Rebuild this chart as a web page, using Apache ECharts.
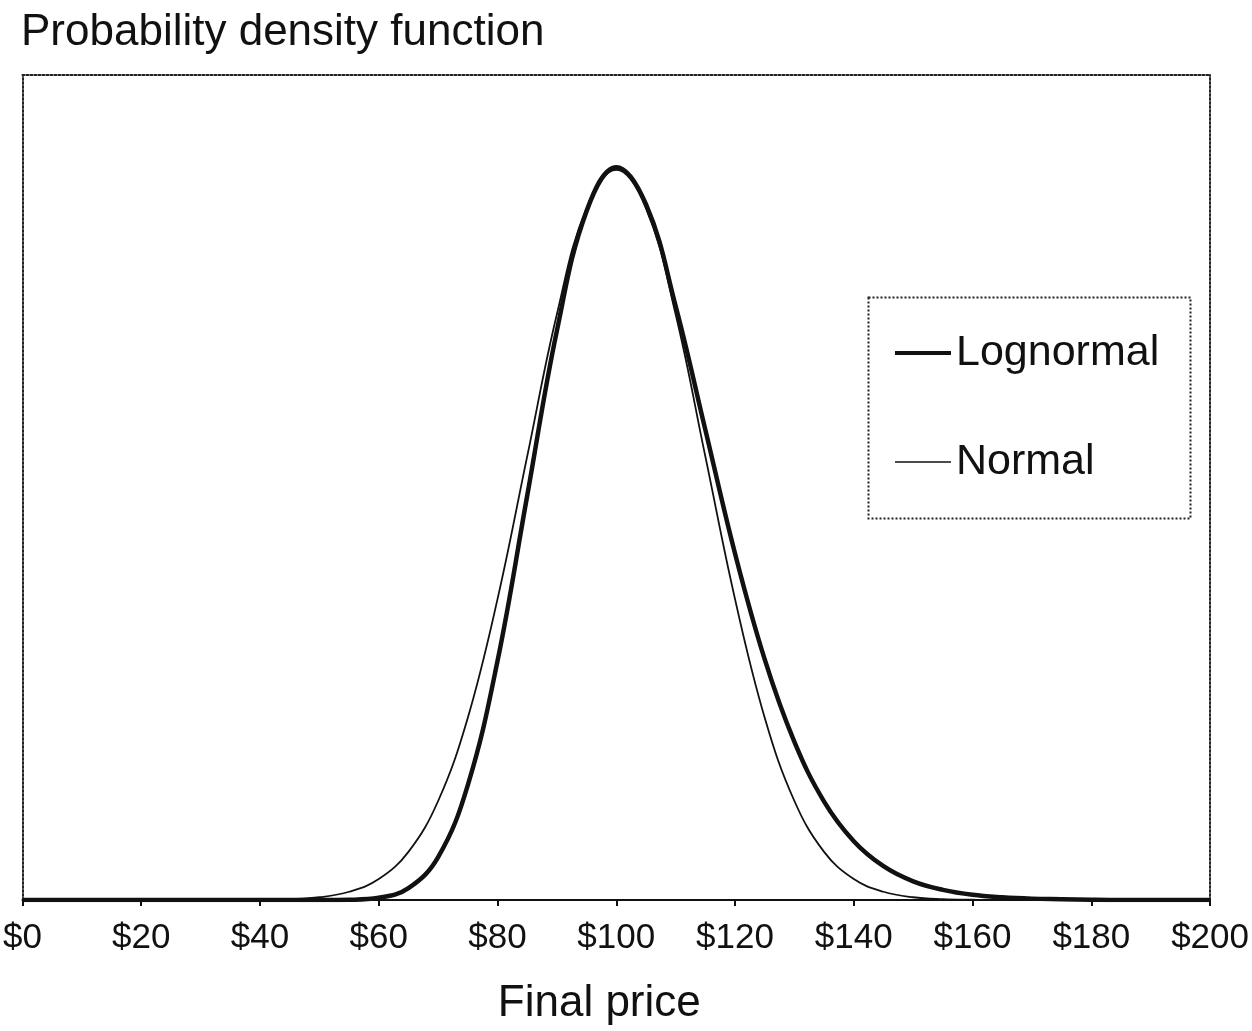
<!DOCTYPE html>
<html>
<head>
<meta charset="utf-8">
<title>Probability density function</title>
<script src="https://cdn.jsdelivr.net/npm/echarts@6/dist/echarts.min.js"></script>
<style>
  html, body { margin: 0; padding: 0; background: #fff; }
  #chart { width: 1252px; height: 1031px; }
</style>
</head>
<body>
<div id="chart"></div>
<script>
// final price, $0 .. $200 every $5
const prices = [0, 5, 10, 15, 20, 25, 30, 35, 40, 45, 50, 55, 60, 65, 70, 75, 80, 85, 90, 95, 100,
  105, 110, 115, 120, 125, 130, 135, 140, 145, 150, 155, 160, 165, 170, 175, 180, 185, 190, 195, 200];

// (density)
const lognormalDensity = [0, 0, 0, 0, 0, 0, 0, 0, 0, 0, 0.000001, 0.00001, 0.00008, 0.00043, 0.00156,
  0.00418, 0.00869, 0.01470, 0.02070, 0.02505, 0.02665, 0.02530, 0.02160, 0.01710, 0.01260, 0.00875,
  0.00575, 0.00358, 0.00214, 0.00123, 0.00068, 0.00037, 0.00019, 0.00010, 0.00005, 0.00003, 0.00001,
  0, 0, 0, 0];

const normalDensity = [0, 0, 0, 0, 0, 0, 0, 0, 0.00001, 0.00003, 0.00010, 0.00030, 0.00076, 0.00175,
  0.00360, 0.00663, 0.01094, 0.01613, 0.02130, 0.02516, 0.02655, 0.02516, 0.02130, 0.01613, 0.01094,
  0.00663, 0.00360, 0.00175, 0.00076, 0.00030, 0.00010, 0.00003, 0.00001, 0, 0, 0, 0, 0, 0, 0, 0];

const xTicks = [0, 20, 40, 60, 80, 100, 120, 140, 160, 180, 200];
const seriesNames = ['Lognormal', 'Normal'];
const lineWidths = [4.5, 1.8];

const FONT = '"Liberation Sans", Arial, Helvetica, sans-serif';

const chart = echarts.init(document.getElementById('chart'));

// pair up x and y
const toPairs = (ys) => prices.map((p, i) => [p, ys[i]]);

const dottedLine = { color: '#222', width: 2, type: 'dotted' };

// frame axes (top / left / right), no labels
const frameAxis = (extra) => Object.assign({
  type: 'value',
  axisLine: { show: true, onZero: false, lineStyle: dottedLine },
  axisTick: { show: false },
  axisLabel: { show: false },
  splitLine: { show: false }
}, extra);

const option = {
  backgroundColor: '#fff',
  animation: false,
  title: {
    text: 'Probability density function',
    left: 21,
    top: 11,
    padding: 0,
    textStyle: { fontFamily: FONT, fontSize: 44, fontWeight: 'normal', color: '#111' }
  },
  legend: {
    data: seriesNames.map((name, i) => ({
      name: name,
      lineStyle: { width: lineWidths[i] - 0.5, color: '#111' }
    })),
    orient: 'vertical',
    left: 888,
    top: 323,
    itemWidth: 56,
    itemHeight: 14,
    itemGap: 59,
    itemStyle: { opacity: 0 },
    textStyle: { fontFamily: FONT, fontSize: 43, color: '#111', lineHeight: 50 }
  },
  grid: {
    left: 22,
    right: 38,
    top: 75,
    bottom: 131
  },
  xAxis: [
    {
      type: 'value',
      min: 0,
      max: 200,
      interval: 20,
      position: 'bottom',
      name: 'Final price',
      nameLocation: 'middle',
      nameGap: 82,
      nameTextStyle: { fontFamily: FONT, fontSize: 44, color: '#111', padding: [0, 34, 0, 0] },
      axisLine: { show: true, onZero: false, lineStyle: { color: '#111', width: 2 } },
      axisTick: { show: true, length: 6, lineStyle: { color: '#111', width: 2 } },
      axisLabel: {
        margin: 21,
        fontFamily: FONT,
        fontSize: 35,
        color: '#111',
        formatter: (v) => xTicks.includes(v) ? '$' + v : ''
      },
      splitLine: { show: false }
    },
    frameAxis({ min: 0, max: 200, position: 'top' })
  ],
  yAxis: [
    frameAxis({ min: 0, max: 0.03, position: 'left' }),
    frameAxis({ min: 0, max: 0.03, position: 'right' })
  ],
  // dotted legend box
  graphic: [
    {
      type: 'rect',
      left: 866,
      top: 295,
      shape: { width: 322, height: 221 },
      style: { fill: 'none', stroke: '#222', lineWidth: 2, lineDash: [2, 2] },
      z: 1
    }
  ],
  series: seriesNames.map((name, i) => ({
    name: name,
    type: 'line',
    data: toPairs(i === 0 ? lognormalDensity : normalDensity),
    smooth: 0.4,
    symbol: 'none',
    lineStyle: { color: '#111', width: lineWidths[i] },
    itemStyle: { color: '#111' },
    z: 3 - i
  }))
};

chart.setOption(option);

window.addEventListener('resize', () => {
  chart.resize();
});
</script>
</body>
</html>
